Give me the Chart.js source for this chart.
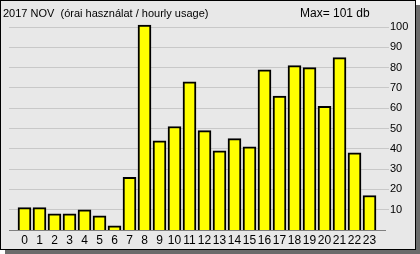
<!DOCTYPE html>
<html>
<head>
<meta charset="utf-8">
<script src="https://cdn.jsdelivr.net/npm/chart.js@4.4.1/dist/chart.umd.min.js"></script>
<style>
  body { margin: 0; background: #fff; }
  #panel {
    position: absolute; left: 0; top: 0;
    width: 414px; height: 248px;
    border: 1px solid #000;
    background: #e8e8e8;
    box-shadow: 5px 5px 0 #6b6b6b;
  }
  canvas { display: block; }
</style>
</head>
<body>
<div id="panel"><canvas id="myChart" width="414" height="248"></canvas></div>
<script>
const hours = [0, 1, 2, 3, 4, 5, 6, 7, 8, 9, 10, 11, 12, 13, 14, 15, 16, 17, 18, 19, 20, 21, 22, 23];
const usage = [11, 11, 8, 8, 10, 7, 2, 26, 101, 44, 51, 73, 49, 39, 45, 41, 79, 66, 81, 80, 61, 85, 38, 17];
const yTicks = [10, 20, 30, 40, 50, 60, 70, 80, 90, 100];
const titleText = "2017 NOV  (órai használat / hourly usage)";
const maxText = "Max= 101 db";

const FONT = "Liberation Sans, Arial, sans-serif";

// fejléc szövegek
const headerPlugin = {
  id: 'header',
  afterDraw(chart) {
    const ctx = chart.ctx;
    ctx.save();
    ctx.fillStyle = '#000';
    ctx.textBaseline = 'alphabetic';
    ctx.textAlign = 'left';
    ctx.font = '11px ' + FONT;
    ctx.fillText(titleText, 2, 16);
    ctx.font = '12px ' + FONT;
    ctx.fillText(maxText, 299, 16);
    ctx.restore();
  }
};

new Chart(document.getElementById('myChart'), {
  type: 'bar',
  data: {
    datasets: [{
      data: hours.map((h, i) => ({ x: h, y: usage[i] })),
      backgroundColor: '#ffff00',
      borderColor: '#000',
      borderWidth: 2,
      barThickness: 13
    }]
  },
  options: {
    responsive: false,
    animation: false,
    layout: { padding: { left: 8, top: 18, right: 0, bottom: 0 } },
    plugins: {
      legend: { display: false },
      tooltip: { enabled: false }
    },
    scales: {
      x: {
        type: 'linear',
        offset: false,
        min: -1.033,
        max: 24.033,
        afterBuildTicks(scale) { scale.ticks = hours.map(v => ({ value: v })); },
        afterFit(scale) { scale.height = 19; },
        grid: { display: false, drawTicks: false, offset: false },
        border: { display: true, color: '#7f7f7f', width: 1 },
        ticks: { color: '#000', font: { family: FONT, size: 12 }, padding: 3, maxRotation: 0, autoSkip: false }
      },
      y: {
        position: 'right',
        min: 0,
        max: 104,
        afterBuildTicks(scale) { scale.ticks = yTicks.map(v => ({ value: v })); },
        afterFit(scale) { scale.width = 30; },
        grid: { color: '#c8c8c8', tickColor: '#c8c8c8', tickLength: 4, lineWidth: 1 },
        border: { display: false },
        ticks: { color: '#000', font: { family: FONT, size: 11 }, padding: 1 }
      }
    }
  },
  plugins: [headerPlugin]
});
</script>
</body>
</html>
